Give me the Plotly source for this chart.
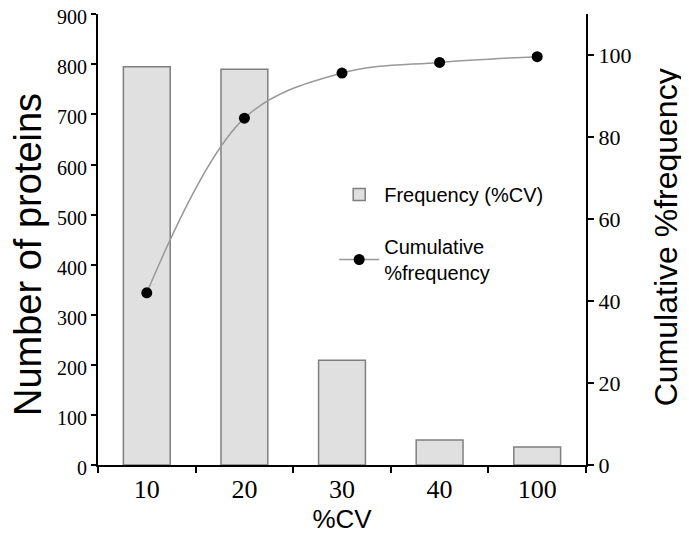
import plotly.graph_objects as go

categories = ["10", "20", "30", "40", "100"]
frequency = [795, 790, 209, 50, 36]
cumulative = [42.0, 84.6, 95.6, 98.2, 99.6]
left_ticks = [0, 100, 200, 300, 400, 500, 600, 700, 800, 900]
right_ticks = [0, 20, 40, 60, 80, 100]

fig = go.Figure()
fig.add_trace(go.Bar(
    x=categories, y=frequency, name="Frequency (%CV)",
    marker=dict(color="#e0e0e0", line=dict(color="#7f7f7f", width=1.5)),
    yaxis="y", legendgroup="a",
))
fig.add_trace(go.Scatter(
    x=categories, y=cumulative, name="Cumulative<br>%frequency",
    mode="lines+markers",
    line=dict(color="#999999", width=1.5, shape="spline", smoothing=1.0),
    marker=dict(color="black", size=11),
    yaxis="y2", legendgroup="b",
))

serif = "Liberation Serif"
sans = "Liberation Sans"
fig.update_layout(
    width=689, height=544,
    margin=dict(l=90, r=111, t=6, b=87),
    paper_bgcolor="white", plot_bgcolor="white",
    bargap=0.52,
    showlegend=True,
    legend=dict(x=0.484, y=0.643, xanchor="left", yanchor="top",
                font=dict(family=sans, size=20, color="black"),
                bgcolor="rgba(0,0,0,0)", tracegroupgap=23, itemwidth=40),
    xaxis=dict(
        showline=True, linecolor="black", linewidth=2,
        ticks="outside", ticklen=6, tickwidth=2, tickcolor="black",
        tickson="boundaries", automargin=False,
        tickfont=dict(family=serif, size=26, color="black"),
        title=dict(text="%CV", font=dict(family=sans, size=26, color="black"), standoff=6),
        showgrid=False, zeroline=False,
    ),
    yaxis=dict(
        range=[0, 900.5], tickvals=left_ticks, automargin=False,
        ticklabeloverflow="allow", ticklabelshift=3,
        showline=True, linecolor="black", linewidth=2,
        ticks="outside", ticklen=5, tickwidth=2, tickcolor="black",
        tickfont=dict(family=serif, size=20, color="black"),
        showgrid=False, zeroline=False,
    ),
    yaxis2=dict(
        range=[0, 110], tickvals=right_ticks, overlaying="y", side="right", automargin=False,
        ticklabeloverflow="allow",
        showline=True, linecolor="black", linewidth=2,
        ticks="outside", ticklen=6, tickwidth=2, tickcolor="black",
        tickfont=dict(family=serif, size=22, color="black"),
        showgrid=False, zeroline=False,
    ),
    annotations=[
        dict(
            text="Number of proteins", textangle=-90, showarrow=False,
            xref="paper", yref="paper", x=-0.143, y=0.466,
            xanchor="center", yanchor="middle",
            font=dict(family=sans, size=38, color="black"),
        ),
        dict(
            text="Cumulative %frequency", textangle=-90, showarrow=False,
            xref="paper", yref="paper", x=1.164, y=0.505,
            xanchor="center", yanchor="middle",
            font=dict(family=sans, size=32, color="black"),
        ),
    ],
)

fig.write_html("out.html")
